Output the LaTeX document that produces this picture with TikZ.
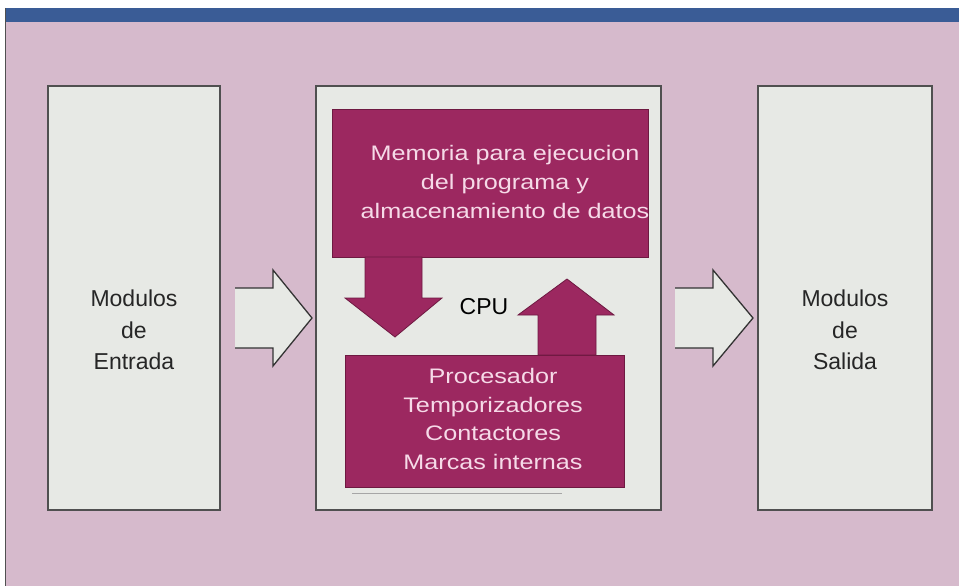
\documentclass[tikz,border=0pt]{standalone}
\usepackage{fontspec}
\setmainfont{Liberation Sans}
\newfontfamily\widesans[FakeStretch=1.2]{Liberation Sans}
\definecolor{bandblue}{RGB}{58,92,150}
\definecolor{slidepink}{RGB}{214,186,204}
\definecolor{panelgray}{RGB}{231,233,229}
\definecolor{plcmagenta}{RGB}{156,40,96}
\definecolor{plcedge}{RGB}{110,25,65}
\definecolor{softtext}{RGB}{246,218,232}
\definecolor{edgegray}{RGB}{80,80,80}
\tikzset{
  panel/.style={draw=edgegray, line width=1.3pt, fill=panelgray, inner sep=0pt},
  unitblock/.style={draw=plcedge, line width=0.8pt, fill=plcmagenta, inner sep=0pt},
  paneltext/.style={align=center, text=black!85, font=\fontsize{23}{31.5}\selectfont},
  unittext/.style={align=center, text=softtext, font=\widesans\fontsize{21}{28.7}\selectfont},
  flowarrow/.style={draw=plcedge, line width=0.8pt, fill=plcmagenta},
  hollowedge/.style={draw=black!80, line width=1.3pt, line join=miter}
}
\begin{document}
\begin{tikzpicture}[x=1pt, y=-1pt]
  \useasboundingbox (0,0) rectangle (959,586);
  \fill[white] (0,0) rectangle (959,586);

  % slide background with its title band
  \fill[slidepink] (5,22) rectangle (959,586);
  \fill[bandblue] (5,8) rectangle (959,22);
  \draw[edgegray, line width=1pt] (5,8) -- (5,586);

  % the three main panels
  \node[panel, minimum width=172, minimum height=424] (entrada) at (134,298) {};
  \node[panel, minimum width=345, minimum height=424] (cpu) at (488.5,298) {};
  \node[panel, minimum width=174, minimum height=424] (salida) at (845,298) {};

  % hollow arrows between the panels (open tail)
  \fill[panelgray] (235,288) -- (273,288) -- (273,270) -- (312,318) -- (273,366) -- (273,348) -- (235,348) -- cycle;
  \draw[hollowedge] (235,288) -- (273,288) -- (273,270) -- (312,318) -- (273,366) -- (273,348) -- (235,348);
  \fill[panelgray] (675,288) -- (713,288) -- (713,270) -- (753,318) -- (713,366) -- (713,348) -- (675,348) -- cycle;
  \draw[hollowedge] (675,288) -- (713,288) -- (713,270) -- (753,318) -- (713,366) -- (713,348) -- (675,348);

  % memory and processor blocks inside the CPU
  \node[unitblock, minimum width=316, minimum height=148] (memoria) at (490,183) {};
  \node[unitblock, minimum width=279, minimum height=132] (procesador) at (484.5,421) {};
  \draw[black!35, line width=1pt] (352,493) -- (562,493);

  % data flow arrows between memory and processor
  \draw[flowarrow] (365,257) -- (422,257) -- (422,298) -- (442,298) -- (395,337) -- (345,298) -- (365,298) -- cycle;
  \draw[flowarrow] (538,355) -- (596,355) -- (596,315) -- (614,315) -- (567,279) -- (518,315) -- (538,315) -- cycle;

  % labels
  \node[paneltext] (entradatext) at (134,330) {Modulos\\de\\Entrada};
  \node[paneltext] (salidatext) at (845,330) {Modulos\\de\\Salida};
  \node[text=black, font=\fontsize{23}{28}\selectfont] (cpulabel) at (484,307) {CPU};
  \node[unittext] (memoriatext) at (505,182) {Memoria para ejecucion\\del programa y\\almacenamiento de datos};
  \node[unittext] (procesadortext) at (493,419) {Procesador\\Temporizadores\\Contactores\\Marcas internas};
\end{tikzpicture}
\end{document}
